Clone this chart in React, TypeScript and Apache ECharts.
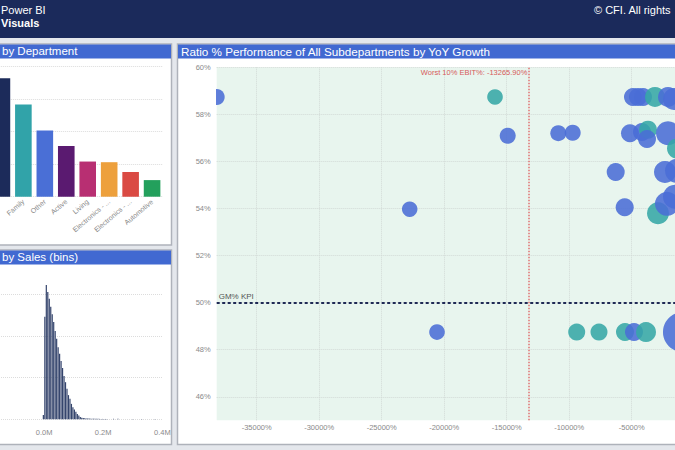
import React, { useEffect, useRef } from "react";
import * as echarts from "echarts";

// ---------- Top-left panel: by Department ----------
const deptNames = ["Home", "Family", "Other", "Active", "Living", "Electronics - Audio", "Electronics - Video", "Automotive"];
const deptValues = [3.64, 2.83, 2.03, 1.56, 1.08, 1.06, 0.76, 0.51];
const deptColors = ["#1c2b5a", "#31a3a9", "#4a6fd6", "#5a1a70", "#b82f72", "#eda03c", "#da4a43", "#23a05c"];

// ---------- Bottom-left panel: by Sales (bins) ----------
const histBinStart = -5000;
const histBinWidth = 5000;
const histCounts = [
  103, 2460, 3220, 3050, 2890, 2700, 2520, 2330, 2120, 1930,
  1730, 1570, 1400, 1230, 1040, 890, 730, 580, 490, 370,
  290, 235, 180, 125, 90, 55, 40, 30, 25, 22,
  20, 18, 16, 15, 14, 13, 12, 11, 10, 9,
  9, 8, 8, 7,
];
const histOutlierSales = [235000, 250000, 300000, 330000, 375000];
const histOutlierCounts = [12, 12, 10, 10, 10];

// ---------- Right panel: Ratio % Performance by YoY Growth ----------
const subGrowth = [
  -38200, -22760, -20576, -15936, -14920, -10872, -9720, -9400, -7616, -6280,
  -5560, -5536, -4816, -3856, -900, -4896, -4496, -4096, -3136, -2096,
  -1616, -5136, -4176, -3696, -3776, -2096, -1376, -2336, -1376, -2896,
  -2176, -1536,
];
const subGM = [
  58.74, 53.97, 48.75, 58.74, 57.09, 57.2, 57.22, 48.75, 48.75, 55.55,
  54.05, 48.75, 48.75, 48.75, 48.75, 58.74, 58.74, 58.74, 58.74, 58.74,
  58.65, 57.2, 57.25, 57.35, 56.95, 57.2, 56.55, 55.55, 55.6, 53.8,
  54.2, 54.5,
];
const subSales = [
  256, 240, 245, 245, 256, 256, 256, 290, 290, 324,
  324, 324, 324, 400, 1600, 324, 324, 324, 400, 400,
  484, 324, 324, 324, 324, 576, 400, 484, 576, 484,
  576, 576,
];
// 0 = below-target group (blue), 1 = on-target group (teal)
const subGroup = [
  0, 0, 0, 1, 0, 0, 0, 1, 1, 0,
  0, 1, 0, 1, 0, 0, 0, 0, 1, 0,
  0, 0, 0, 1, 0, 0, 1, 0, 0, 1,
  0, 0,
];
const gmKpi = 50;
const worstEbit = -13265.9;

const FONT = "'Liberation Sans', Arial, Helvetica, sans-serif";
const BLUE = "#4a6dd6";
const TEAL = "#35a7a6";

export default function App() {
  const ref = useRef<HTMLDivElement>(null);

  useEffect(() => {
    if (!ref.current) return;
    const chart = echarts.init(ref.current, undefined, { renderer: "svg" });

    const histData: number[][] = histCounts.map((c, i) => [histBinStart + i * histBinWidth + histBinWidth / 2, c]);
    histOutlierSales.forEach((s, i) => histData.push([s, histOutlierCounts[i]]));

    const bubbleData = subGrowth.map((g, i) => [g, subGM[i], subSales[i], subGroup[i]]);

    const panelStroke = "#aeb2ba";
    const titleBlue = "#4169d1";

    const option: any = {
      animation: false,
      backgroundColor: "#e4e7ec",
      textStyle: { fontFamily: FONT },
      graphic: [
        { type: "rect", z: -20, silent: true, shape: { x: 0, y: 0, width: 675, height: 38 }, style: { fill: "#1b2a5b" } },
        { type: "text", z: -5, silent: true, x: 1, y: 4, style: { text: "Power BI", fill: "#ffffff", fontSize: 11, fontFamily: FONT } },
        { type: "text", z: -5, silent: true, x: 1, y: 17, style: { text: "Visuals", fill: "#ffffff", fontSize: 11, fontWeight: "bold", fontFamily: FONT } },
        { type: "text", z: -5, silent: true, x: 594, y: 4, style: { text: "© CFI. All rights", fill: "#ffffff", fontSize: 11, fontFamily: FONT } },

        { type: "rect", z: -20, silent: true, shape: { x: -10, y: 44, width: 181.5, height: 201 }, style: { fill: "#ffffff", stroke: panelStroke, lineWidth: 1.5 } },
        { type: "rect", z: -19, silent: true, shape: { x: -10, y: 44.5, width: 181, height: 14 }, style: { fill: titleBlue } },
        { type: "text", z: -5, silent: true, x: 2, y: 45, style: { text: "by Department", fill: "#ffffff", fontSize: 11.5, fontFamily: FONT } },

        { type: "rect", z: -20, silent: true, shape: { x: -10, y: 250, width: 181.5, height: 194.5 }, style: { fill: "#ffffff", stroke: panelStroke, lineWidth: 1.5 } },
        { type: "rect", z: -19, silent: true, shape: { x: -10, y: 250.5, width: 181, height: 14 }, style: { fill: titleBlue } },
        { type: "text", z: -5, silent: true, x: 2, y: 251, style: { text: "by Sales (bins)", fill: "#ffffff", fontSize: 11.5, fontFamily: FONT } },

        { type: "rect", z: -20, silent: true, shape: { x: 177.5, y: 44, width: 520, height: 400.5 }, style: { fill: "#ffffff", stroke: panelStroke, lineWidth: 1.5 } },
        { type: "rect", z: -19, silent: true, shape: { x: 178, y: 44.5, width: 520, height: 14 }, style: { fill: titleBlue } },
        { type: "text", z: -5, silent: true, x: 181, y: 45, style: { text: "Ratio % Performance of All Subdepartments by YoY Growth", fill: "#ffffff", fontSize: 11.7, fontFamily: FONT } },
      ],
      grid: [
        { left: -8.8, top: 66.5, width: 171.6, height: 130.2, containLabel: false, outerBoundsMode: "none" },
        { left: -15, top: 280, width: 177.3, height: 139.3, containLabel: false, outerBoundsMode: "none" },
        { left: 216.7, top: 67.3, width: 477.5, height: 353, containLabel: false, outerBoundsMode: "none", show: true, backgroundColor: "#e8f5ee", borderWidth: 0 },
      ],
      xAxis: [
        {
          gridIndex: 0,
          type: "category",
          data: deptNames,
          axisLine: { show: false },
          axisTick: { show: false },
          axisLabel: {
            interval: 0,
            rotate: 40,
            fontSize: 7,
            color: "#8a8a8a",
            margin: 4,
            formatter: (v: string, i: number) =>
              i === 0 ? "" : v.indexOf(" - ") > 0 ? v.split(" - ")[0] + " - ..." : v,
          },
        },
        {
          gridIndex: 1,
          type: "value",
          min: -200000,
          max: 400000,
          interval: 200000,
          axisLine: { show: false },
          axisTick: { show: false },
          splitLine: { show: false },
          axisLabel: { fontSize: 7.5, color: "#8a8a8a", margin: 9, showMinLabel: false, formatter: (v: number) => (v / 1e6).toFixed(1) + "M" },
        },
        {
          gridIndex: 2,
          type: "value",
          min: -38200,
          max: 0,
          splitNumber: 8,
          minInterval: 5000,
          maxInterval: 5000,
          axisLine: { show: false },
          axisTick: { show: false },
          splitLine: { show: true, showMinLine: false, lineStyle: { color: "#d2dad6", type: "dotted", width: 1 } },
          axisLabel: { fontSize: 7.5, color: "#8a8a8a", margin: 3, showMinLabel: false, showMaxLabel: false, formatter: (v: number) => v + "%" },
        },
      ],
      yAxis: [
        {
          gridIndex: 0,
          type: "value",
          min: 0,
          max: 4,
          interval: 1,
          axisLabel: { show: false },
          axisLine: { show: false },
          axisTick: { show: false },
          splitLine: { lineStyle: { color: "#dcdcdc", type: "dotted" } },
        },
        {
          gridIndex: 1,
          type: "value",
          min: 0,
          max: 3340,
          interval: 1000,
          axisLabel: { show: false },
          axisLine: { show: false },
          axisTick: { show: false },
          splitLine: { showMaxLine: false, lineStyle: { color: "#dcdcdc", type: "dotted" } },
        },
        {
          gridIndex: 2,
          type: "value",
          min: 45,
          max: 60,
          splitNumber: 7,
          minInterval: 2,
          maxInterval: 2,
          axisLine: { show: false },
          axisTick: { show: false },
          splitLine: { show: true, showMinLine: false, lineStyle: { color: "#d2dad6", type: "dotted", width: 1 } },
          axisLabel: { fontSize: 7.5, color: "#8a8a8a", margin: 6, showMinLabel: false, formatter: (v: number) => v + "%" },
        },
      ],
      series: [
        {
          type: "bar",
          xAxisIndex: 0,
          yAxisIndex: 0,
          barWidth: 16.6,
          data: deptValues.map((v, i) => ({ value: v, itemStyle: { color: deptColors[i] } })),
        },
        {
          type: "bar",
          xAxisIndex: 1,
          yAxisIndex: 1,
          barWidth: 1.2,
          itemStyle: { color: "#34446c" },
          data: histData,
        },
        {
          type: "custom",
          xAxisIndex: 2,
          yAxisIndex: 2,
          clip: true,
          data: bubbleData,
          encode: { x: 0, y: 1 },
          renderItem: (params: any, api: any) => {
            const pt = api.coord([api.value(0), api.value(1)]);
            const r = Math.sqrt(api.value(2)) / 2;
            const g = api.value(3);
            return {
              type: "circle",
              shape: { cx: pt[0], cy: pt[1], r },
              style: { fill: g === 1 ? TEAL : BLUE, opacity: 0.88 },
            };
          },
          markLine: {
            silent: true,
            symbol: "none",
            data: [
              {
                yAxis: gmKpi,
                lineStyle: { color: "#1f2a55", type: [3, 2.5], width: 2 },
                label: { show: true, position: "insideStartTop", formatter: "GM% KPI", color: "#555", fontSize: 8, distance: 2 },
              },
              {
                xAxis: worstEbit,
                lineStyle: { color: "#e07070", type: "dotted", width: 1.5 },
                label: { show: false },
              },
            ],
          },
          markPoint: {
            silent: true,
            symbol: "circle",
            symbolSize: 0,
            data: [
              {
                coord: [worstEbit, 59.8],
                label: {
                  show: true,
                  position: "left",
                  distance: 1,
                  formatter: "Worst 10% EBIT%: " + worstEbit.toFixed(2) + "%",
                  color: "#d65a5a",
                  fontSize: 7.5,
                },
              },
            ],
          },
        },
      ],
    };

    chart.setOption(option);
    return () => chart.dispose();
  }, []);

  return <div ref={ref} style={{ position: "fixed", left: 0, top: 0, width: 675, height: 450 }} />;
}
